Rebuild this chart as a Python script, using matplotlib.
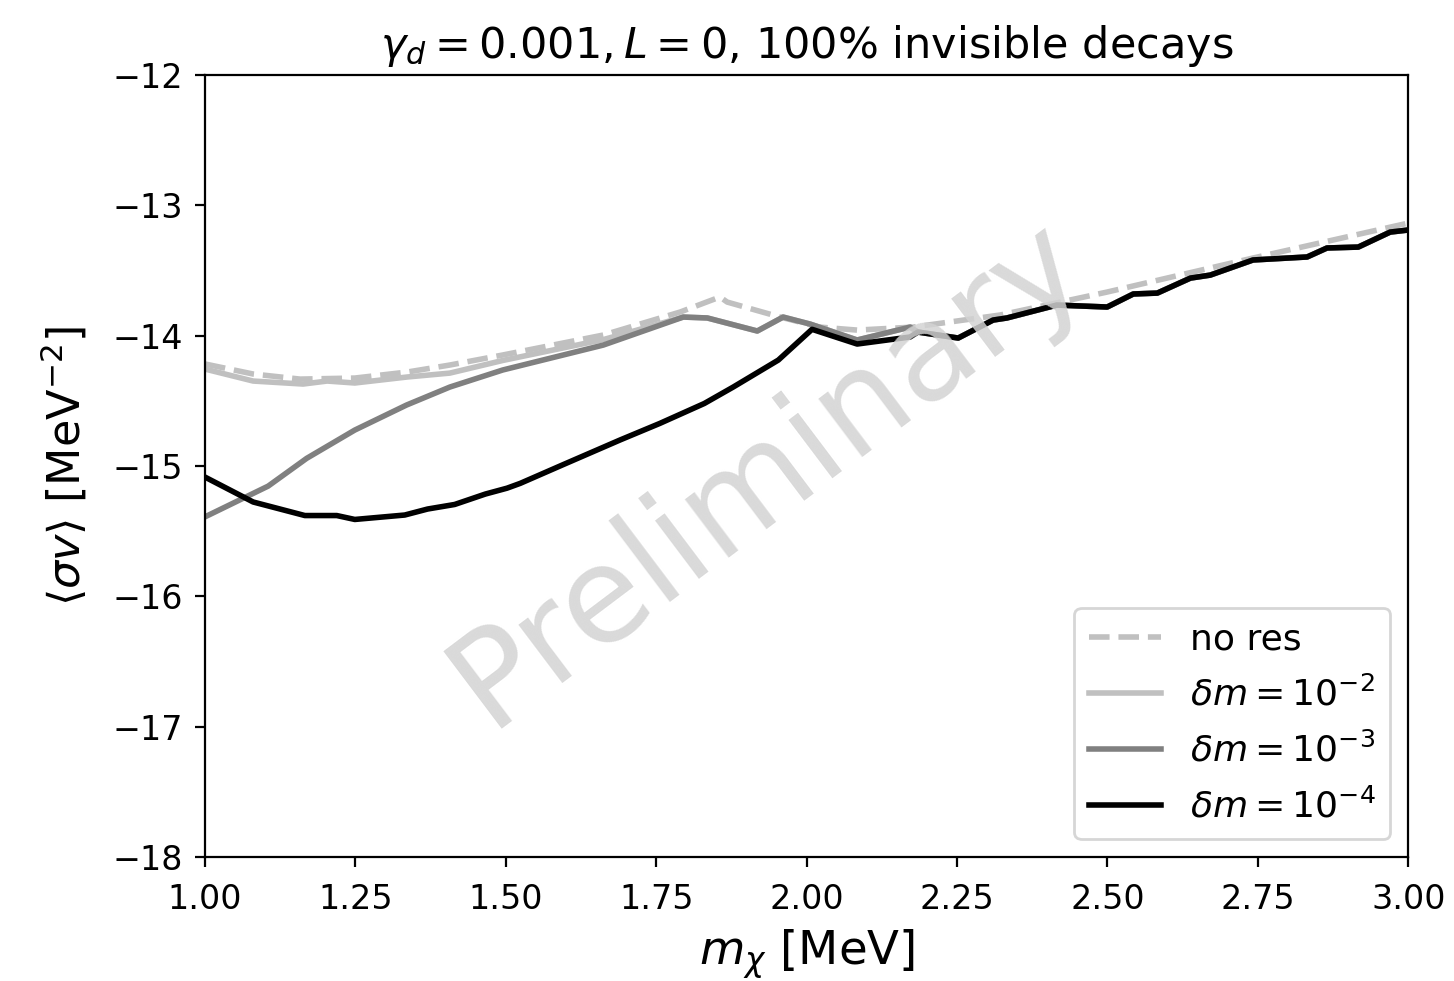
import matplotlib
matplotlib.use("Agg")
import matplotlib.pyplot as plt
import numpy as np

# no res (dashed)
x_nores = [1.0, 1.08, 1.158, 1.249, 1.336, 1.407, 1.495, 1.662, 1.79, 1.856, 1.868,
           1.956, 2.022, 2.084, 2.177, 2.322, 2.4996, 2.742, 3.0]
y_nores = [-14.217, -14.294, -14.333, -14.325, -14.279, -14.225, -14.148, -13.995,
           -13.818, -13.703, -13.742, -13.857, -13.934, -13.957, -13.934, -13.841,
           -13.665, -13.404, -13.136]

# delta m = 1e-2
x_dm2 = [1.0, 1.08, 1.163, 1.203, 1.249, 1.336, 1.407, 1.495, 1.662, 1.795, 1.835,
         1.918, 1.961, 2.006, 2.084, 2.172, 2.185, 2.252, 2.310, 2.333, 2.416, 2.4996,
         2.543, 2.583, 2.638, 2.671, 2.742, 2.832, 2.865, 2.917, 2.970, 3.0]
y_dm2 = [-14.256, -14.348, -14.371, -14.348, -14.363, -14.317, -14.287, -14.19,
         -14.03, -13.857, -13.864, -13.964, -13.857, -13.911, -14.033, -13.934,
         -13.972, -14.018, -13.88, -13.864, -13.765, -13.78, -13.68, -13.673,
         -13.558, -13.535, -13.419, -13.396, -13.327, -13.32, -13.205, -13.189]

# delta m = 1e-3
x_dm3 = [1.0, 1.105, 1.169, 1.249, 1.335, 1.407, 1.495, 1.662, 1.795, 1.835, 1.918,
         1.961, 2.006, 2.084, 2.172, 2.185, 2.252, 2.310, 2.333, 2.416, 2.4996,
         2.543, 2.583, 2.638, 2.671, 2.742, 2.832, 2.865, 2.917, 2.970, 3.0]
y_dm3 = [-15.39, -15.154, -14.941, -14.724, -14.532, -14.394, -14.263, -14.072,
         -13.857, -13.864, -13.964, -13.857, -13.911, -14.033, -13.934, -13.972,
         -14.018, -13.88, -13.864, -13.765, -13.78, -13.68, -13.673, -13.558,
         -13.535, -13.419, -13.396, -13.327, -13.32, -13.205, -13.189]

# delta m = 1e-4
x_dm4 = [1.0, 1.08, 1.166, 1.219, 1.249, 1.332, 1.37, 1.415, 1.466, 1.502, 1.524,
         1.595, 1.69, 1.756, 1.83, 1.878, 1.953, 2.009, 2.084, 2.172, 2.185, 2.252,
         2.310, 2.333, 2.416, 2.4996, 2.543, 2.583, 2.638, 2.671, 2.742, 2.832,
         2.865, 2.917, 2.970, 3.0]
y_dm4 = [-15.085, -15.276, -15.38, -15.38, -15.41, -15.376, -15.33, -15.295, -15.215,
         -15.17, -15.133, -14.99, -14.80, -14.673, -14.52, -14.394, -14.187, -13.951,
         -14.064, -14.01, -13.972, -14.018, -13.88, -13.864, -13.765, -13.78, -13.68,
         -13.673, -13.558, -13.535, -13.419, -13.396, -13.327, -13.32, -13.205, -13.189]

xticks = [1.00, 1.25, 1.50, 1.75, 2.00, 2.25, 2.50, 2.75, 3.00]
yticks = [-18, -17, -16, -15, -14, -13, -12]

fig = plt.figure(figsize=(7.27, 4.905), dpi=200)
ax = fig.add_axes([0.141, 0.1264, 0.8275, 0.7971])

ax.plot(x_nores, y_nores, color='#c0c0c0', ls='--', lw=2, label='no res')
ax.plot(x_dm2, y_dm2, color='#c0c0c0', lw=2, label=r'$\delta m = 10^{-2}$')
ax.plot(x_dm3, y_dm3, color='#808080', lw=2, label=r'$\delta m = 10^{-3}$')
ax.plot(x_dm4, y_dm4, color='black', lw=2, label=r'$\delta m = 10^{-4}$')

ax.text(0.468, 0.492, 'Preliminary', transform=ax.transAxes, ha='center', va='center',
        rotation=37, fontsize=48, color='#d3d3d3', alpha=0.85, zorder=5)

ax.set_xlim(1, 3)
ax.set_ylim(-18, -12)
ax.set_xticks(xticks)
ax.set_yticks(yticks)
ax.tick_params(axis='x', labelsize=12, pad=6)
ax.tick_params(axis='y', labelsize=12, pad=4.5)
ax.set_xlabel(r'$m_\chi$ [MeV]', fontsize=16.8, labelpad=4)
ax.set_ylabel(r'$\langle \sigma v \rangle$ [MeV$^{-2}$]', fontsize=16, labelpad=8)
ax.set_title(r'$\gamma_d = 0.001, L = 0$, 100% invisible decays', fontsize=15.5)
ax.legend(loc='lower right', fontsize=13, labelspacing=0.55)

fig.savefig('out.png', dpi=200)
